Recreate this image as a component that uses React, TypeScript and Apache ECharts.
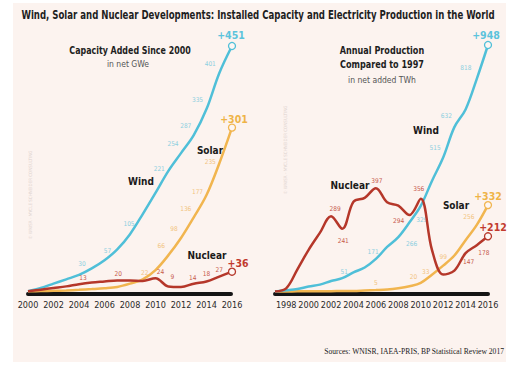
import React, { useEffect, useRef } from "react";
import * as echarts from "echarts";

// ---------- data ----------
const capYears = [2000, 2001, 2002, 2003, 2004, 2005, 2006, 2007, 2008, 2009, 2010, 2011, 2012, 2013, 2014, 2015, 2016];
const capWind = [0, 6, 14, 22, 30, 42, 57, 77, 105, 142, 181, 221, 254, 287, 335, 401, 451];
const capSolar = [0, 0.3, 0.8, 1.5, 2.6, 4, 5.6, 8, 14, 22, 39, 66, 98, 136, 177, 235, 301];
const capNuclear = [0, 3, 6, 9, 13, 16, 18, 20, 20, 19, 24, 9, 8, 14, 18, 27, 36];

const prodYears = [1997, 1998, 1999, 2000, 2001, 2002, 2003, 2004, 2005, 2006, 2007, 2008, 2009, 2010, 2011, 2012, 2013, 2014, 2015, 2016];
const prodWind = [0, 4, 9, 19, 26, 40, 51, 73, 92, 125, 171, 209, 266, 329, 425, 515, 632, 700, 818, 948];
const prodSolar = [0, 0, 0.2, 0.4, 0.7, 1, 1.4, 2, 3.5, 5, 7, 12, 20, 33, 64, 99, 138, 197, 256, 332];
const prodNuclear = [0, 12, 85, 160, 225, 289, 241, 345, 360, 397, 343, 330, 294, 356, 160, 65, 80, 147, 178, 212];

const capTitle = "Capacity Added Since 2000";
const capUnit = "in net GWe";
const prodTitle1 = "Annual Production";
const prodTitle2 = "Compared to 1997";
const prodUnit = "in net added TWh";
const mainTitle = "Wind, Solar and Nuclear Developments: Installed Capacity and Electricity Production in the World";
const sourceText = "Sources: WNISR, IAEA-PRIS, BP Statistical Review 2017";
const watermark = "© WNISR - MYCLE SCHNEIDER CONSULTING";

// ---------- styles ----------
const FONT = "'Liberation Sans Narrow','DejaVu Sans Condensed','Roboto Condensed',Roboto,sans-serif";
const C = {
  wind: "#4fbfd8", windLbl: "#8ccfe0", windEnd: "#5cc3dc",
  solar: "#f1b54f", solarLbl: "#f2c47f", solarEnd: "#efb347",
  nuclear: "#b5372a", nuclearLbl: "#c75a4c", nuclearEnd: "#c23a2e",
};

// label offsets (dx, dy) keyed by year
const OFF: Record<string, Record<number, number[]>> = {
  capWind: { 2004: [3, -11], 2006: [3, -9], 2008: [-1, -10], 2011: [-9, -2], 2012: [-8, -9], 2013: [-8, -9], 2014: [-9, -9], 2015: [-9, -9], 2016: [-1, -11] },
  capSolar: { 2009: [2, -6], 2011: [-7, -9], 2012: [-7, -9], 2013: [-8, -8], 2014: [-9, -3], 2015: [-9, -1], 2016: [2, -9] },
  capNuclear: { 2004: [4, -6], 2007: [1, -6], 2010: [5, -6], 2011: [4, -9], 2013: [-1, -6], 2014: [0, -7], 2015: [0, -7], 2016: [6, -9] },
  prodWind: { 2003: [2, -6], 2007: [-14, 5], 2009: [2, 22], 2010: [1, 14], 2012: [-8, -10], 2013: [-8, -11], 2015: [-11, -11], 2016: [-2, -10] },
  prodNuclear: { 2002: [4, -7], 2003: [1, 12], 2006: [1, -7], 2009: [-11, 6], 2010: [-2, -10], 2014: [3, 9], 2015: [7, 8], 2016: [5, -9] },
  prodSolar: { 2006: [0, -7], 2009: [4, -9], 2010: [5, -11], 2012: [0, -9], 2015: [-8, -8], 2016: [0, -9] },
};

function mkSeries(name: string, years: number[], vals: number[], key: string, color: string, lblColor: string, endColor: string, axis: number, z: number) {
  const offs = OFF[key];
  const data = years.map((y, i) => {
    const last = i === years.length - 1;
    const off = offs[y];
    return {
      value: [y, vals[i]],
      symbolSize: last ? 7 : 0,
      label: off
        ? {
            show: true,
            position: "inside",
            offset: off,
            formatter: last ? "+" + vals[i] : String(vals[i]),
            color: last ? endColor : lblColor,
            fontSize: last ? 10.5 : 6.5,
            fontWeight: last ? "bold" : "normal",
            fontFamily: FONT,
          }
        : { show: false },
    };
  });
  return {
    name,
    type: "line",
    xAxisIndex: axis,
    yAxisIndex: axis,
    data,
    smooth: 0.35,
    symbol: "circle",
    showSymbol: true,
    silent: true,
    z,
    lineStyle: { color, width: 2.5 },
    itemStyle: { color: "#fdf6f3", borderColor: color, borderWidth: 1.3 },
    emphasis: { disabled: true },
  };
}

function txt(text: string, x: number, y: number, size: number, color: string, weight = "normal", align = "center", family = FONT, sx = 1) {
  return {
    type: "text",
    x,
    y,
    scaleX: sx,
    silent: true,
    style: { text, x: 0, y: 0, fill: color, fontSize: size, fontWeight: weight, fontFamily: family, align, verticalAlign: "middle", textAlign: align, textVerticalAlign: "middle" },
  };
}

export default function App() {
  const ref = useRef<HTMLDivElement>(null);
  useEffect(() => {
    const chart = echarts.init(ref.current!, null, { renderer: "svg" });
    const xAxisCommon = (min: number, max: number, dash: number[]) => ({
      type: "value",
      min,
      max,
      interval: 1,
      splitLine: { show: false },
      axisTick: { show: false },
      axisLine: { show: true, onZero: false, lineStyle: { color: "#151515", width: 4, type: dash } },
      axisLabel: {
        margin: 6,
        fontSize: 9,
        color: "#2a2a2a",
        fontFamily: FONT,
        formatter: (v: number) => (v % 2 === 0 ? String(v) : ""),
      },
    });
    chart.setOption({
      animation: false,
      backgroundColor: "#ffffff",
      grid: [
        { left: 28, right: 284, top: 46, bottom: 76 },
        { left: 275, right: 28, top: 45, bottom: 76 },
      ],
      xAxis: [
        { gridIndex: 0, ...xAxisCommon(2000, 2016, [11.75, 1]) },
        { gridIndex: 1, ...xAxisCommon(1997, 2016, [10.2, 1]) },
      ],
      yAxis: [
        { gridIndex: 0, type: "value", min: -5, max: 451, show: false, splitLine: { show: false } },
        { gridIndex: 1, type: "value", min: -10, max: 948, show: false, splitLine: { show: false } },
      ],
      series: [
        mkSeries("Wind", capYears, capWind, "capWind", C.wind, C.windLbl, C.windEnd, 0, 3),
        mkSeries("Solar", capYears, capSolar, "capSolar", C.solar, C.solarLbl, C.solarEnd, 0, 4),
        mkSeries("Nuclear", capYears, capNuclear, "capNuclear", C.nuclear, C.nuclearLbl, C.nuclearEnd, 0, 5),
        mkSeries("Wind", prodYears, prodWind, "prodWind", C.wind, C.windLbl, C.windEnd, 1, 4),
        mkSeries("Solar", prodYears, prodSolar, "prodSolar", C.solar, C.solarLbl, C.solarEnd, 1, 3),
        mkSeries("Nuclear", prodYears, prodNuclear, "prodNuclear", C.nuclear, C.nuclearLbl, C.nuclearEnd, 1, 5),
      ],
      graphic: [
        { type: "rect", z: -10, silent: true, shape: { x: 13, y: 3, width: 493, height: 359 }, style: { fill: "#fcf3ef" } },
        txt(mainTitle, 258, 15, 11.5, "#1e1e1e", "bold", "center", FONT, 0.83),
        txt(capTitle, 130, 50, 10, "#1e1e1e", "bold", "center", FONT, 0.88),
        txt(capUnit, 128, 64, 8.5, "#555"),
        txt(prodTitle1, 382, 50, 10, "#1e1e1e", "bold", "center", FONT, 0.9),
        txt(prodTitle2, 382, 64, 10, "#1e1e1e", "bold", "center", FONT, 0.9),
        txt(prodUnit, 382, 80, 8.5, "#555"),
        txt("Wind", 141, 181, 10, "#1a1a1a", "bold"),
        txt("Solar", 210, 150, 10, "#1a1a1a", "bold"),
        txt("Nuclear", 207, 255, 10, "#1a1a1a", "bold"),
        txt("Nuclear", 350, 185, 10, "#1a1a1a", "bold"),
        txt("Wind", 426, 130, 10, "#1a1a1a", "bold"),
        txt("Solar", 456, 205, 10, "#1a1a1a", "bold"),
        txt(sourceText, 504, 351, 7.6, "#222", "normal", "right", "'Liberation Serif','Times New Roman',serif"),
        { ...txt(watermark, 30, 195, 4.5, "#ddd2ce"), rotation: Math.PI / 2 },
        { ...txt(watermark, 285, 150, 4.5, "#ddd2ce"), rotation: Math.PI / 2 },
      ],
    });
    return () => chart.dispose();
  }, []);
  return (
    <div style={{ position: "absolute", left: 0, top: 0, width: 516, height: 370, background: "#fff" }}>
      <div ref={ref} style={{ width: 516, height: 370 }} />
    </div>
  );
}
